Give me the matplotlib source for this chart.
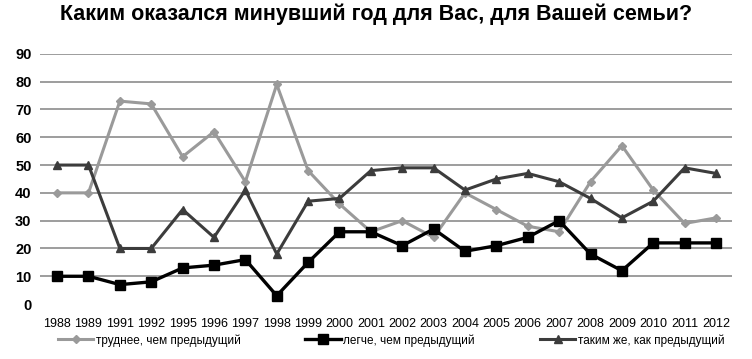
import matplotlib.pyplot as plt

years = ['1988', '1989', '1991', '1992', '1995', '1996', '1997', '1998', '1999', '2000', '2001',
         '2002', '2003', '2004', '2005', '2006', '2007', '2008', '2009', '2010', '2011', '2012']
harder = [40, 40, 73, 72, 53, 62, 44, 79, 48, 36, 26, 30, 24, 40, 34, 28, 26, 44, 57, 41, 29, 31]
easier = [10, 10, 7, 8, 13, 14, 16, 3, 15, 26, 26, 21, 27, 19, 21, 24, 30, 18, 12, 22, 22, 22]
same = [50, 50, 20, 20, 34, 24, 41, 18, 37, 38, 48, 49, 49, 41, 45, 47, 44, 38, 31, 37, 49, 47]

labels = ['труднее, чем предыдущий', 'легче, чем предыдущий', 'таким же, как предыдущий']

plt.rcParams['font.family'] = ['Liberation Sans', 'DejaVu Sans']

fig = plt.figure(figsize=(7.52, 3.59), dpi=100)
ax = fig.add_axes([0.053, 0.153, 0.92, 0.697])

x = range(len(years))
ax.plot(x, harder, color='#9a9a9a', lw=2.2, marker='D', ms=4, label=labels[0])
ax.plot(x, easier, color='#000000', lw=2.4, marker='s', ms=7, label=labels[1])
ax.plot(x, same, color='#3c3c3c', lw=2.2, marker='^', ms=6, label=labels[2])

ax.set_xlim(-0.55, 21.5)
ax.set_ylim(0, 90)
ax.set_yticks(range(0, 91, 10))
ax.set_xticks(list(x))
ax.set_xticklabels(years, fontsize=9)
for t in ax.get_yticklabels():
    t.set_fontweight('bold')
    t.set_fontsize(10.5)
for y in range(10, 91, 10):
    ax.axhline(y, color='#8c8c8c', lw=1.2, zorder=0)
for s in ax.spines.values():
    s.set_visible(False)
ax.tick_params(length=0, pad=10)
ax.tick_params(axis='y', pad=6)

fig.suptitle('Каким оказался минувший год для Вас, для Вашей семьи?',
             fontsize=15.5, fontweight='bold', x=0.5, y=0.99)

fig.legend(loc='lower center', ncol=3, frameon=False, fontsize=8.5,
           bbox_to_anchor=(0.52, 0.005), columnspacing=5.5, handlelength=3.0, handletextpad=0.2)

plt.savefig('out.png')
